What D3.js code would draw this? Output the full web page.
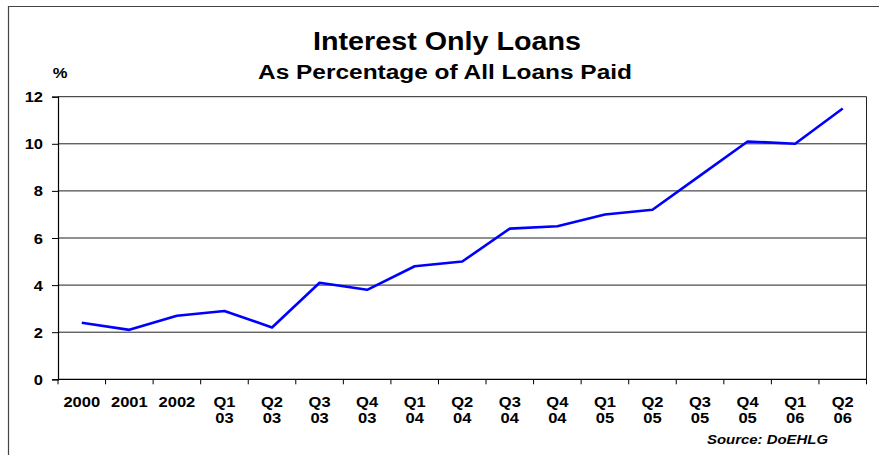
<!DOCTYPE html>
<html>
<head>
<meta charset="utf-8">
<script src="https://cdn.jsdelivr.net/npm/d3@7"></script>
<style>
  html, body { margin: 0; padding: 0; background: #fff; }
  svg { display: block; font-family: Arial, "Liberation Sans", sans-serif; }
</style>
</head>
<body>
<svg id="chart" width="879" height="455"></svg>
<script>
// Periods shown along the x axis (two-line labels split on "\n")
const categories = [
  "2000", "2001", "2002",
  "Q1\n03", "Q2\n03", "Q3\n03", "Q4\n03",
  "Q1\n04", "Q2\n04", "Q3\n04", "Q4\n04",
  "Q1\n05", "Q2\n05", "Q3\n05", "Q4\n05",
  "Q1\n06", "Q2\n06"
];
// Interest-only loans as % of all loans paid
const values = [2.4, 2.1, 2.7, 2.9, 2.2, 4.1, 3.8, 4.8, 5.0, 6.4, 6.5, 7.0, 7.2, 8.65, 10.1, 10.0, 11.5];
const yTicks = [0, 2, 4, 6, 8, 10, 12];

const titleText = "Interest Only Loans";
const subtitleText = "As Percentage of All Loans Paid";
const unitText = "%";
const sourceText = "Source: DoEHLG";

const svg = d3.select("#chart");
const W = 879, H = 455;
const plot = { left: 58, right: 866.5, top: 96.7, bottom: 379.3 };
const STRETCH = 1.14; // labels are set slightly wide

// place a text element at (px, py) with a horizontal stretch
function placeWide(sel, px, py, sx) {
  sel.attr("x", 0).attr("y", 0)
     .attr("transform", `translate(${px},${py}) scale(${sx},1)`);
}

// outer frame (runs off the right and bottom edges)
svg.append("path")
  .attr("d", `M8.5,${H + 2} V6.5 H${W + 2}`)
  .attr("fill", "none").attr("stroke", "#444").attr("stroke-width", 1.2);

const x = d3.scaleBand().domain(categories).range([plot.left, plot.right]).padding(0);
const y = d3.scaleLinear().domain([0, 12]).range([plot.bottom, plot.top]);

// horizontal gridlines
svg.append("g").selectAll("line").data(yTicks.slice(1)).join("line")
  .attr("x1", plot.left).attr("x2", plot.right)
  .attr("y1", d => y(d)).attr("y2", d => y(d))
  .attr("stroke", "#222").attr("stroke-width", 1);

// right edge of the plot area
svg.append("line")
  .attr("x1", plot.right).attr("x2", plot.right)
  .attr("y1", plot.top).attr("y2", plot.bottom)
  .attr("stroke", "#222").attr("stroke-width", 1);

// y axis
const yAxis = svg.append("g")
  .attr("transform", `translate(${plot.left},0)`)
  .call(d3.axisLeft(y).tickValues(yTicks).tickSize(6).tickFormat(d3.format("d")));
yAxis.select(".domain").attr("stroke", "#000").attr("stroke-width", 1.2);
yAxis.selectAll(".tick line").attr("stroke", "#000");
yAxis.selectAll(".tick text")
  .attr("font-size", 14.5).attr("font-weight", "bold").attr("fill", "#000")
  .attr("font-family", "Arial, 'Liberation Sans', sans-serif")
  .attr("text-anchor", "end").attr("dy", "0.35em")
  .attr("x", 0)
  .attr("transform", `translate(-15,0) scale(${STRETCH},1)`);

// x axis: ticks at category boundaries, labels centred in each band
const boundaries = categories.map(c => x(c)).concat([plot.right]);
const xg = svg.append("g");
xg.append("line")
  .attr("x1", plot.left).attr("x2", plot.right)
  .attr("y1", plot.bottom).attr("y2", plot.bottom)
  .attr("stroke", "#000").attr("stroke-width", 1.2);
xg.selectAll("line.tick").data(boundaries).join("line")
  .attr("class", "tick")
  .attr("x1", d => d).attr("x2", d => d)
  .attr("y1", plot.bottom).attr("y2", plot.bottom + 5)
  .attr("stroke", "#000").attr("stroke-width", 1);

xg.selectAll("text.cat").data(categories).join("text")
  .attr("class", "cat")
  .attr("text-anchor", "middle")
  .attr("font-size", 14.5).attr("font-weight", "bold").attr("fill", "#000")
  .each(function(d) {
    const t = d3.select(this);
    placeWide(t, x(d) + x.bandwidth() / 2, 406.7, STRETCH);
    d.split("\n").forEach((p, i) => {
      t.append("tspan").attr("x", 0).attr("dy", i === 0 ? 0 : 16.6).text(p);
    });
  });

// data line
const line = d3.line()
  .x((d, i) => x(categories[i]) + x.bandwidth() / 2)
  .y(d => y(d));
svg.append("path")
  .datum(values)
  .attr("d", line)
  .attr("fill", "none")
  .attr("stroke", "#0000ff")
  .attr("stroke-width", 2.6)
  .attr("stroke-linejoin", "round");

// titles
svg.append("text")
  .attr("x", 313).attr("y", 50)
  .attr("font-size", 25).attr("font-weight", "bold").attr("fill", "#000")
  .attr("textLength", 268).attr("lengthAdjust", "spacingAndGlyphs")
  .text(titleText);
svg.append("text")
  .attr("x", 258).attr("y", 78.5)
  .attr("font-size", 20).attr("font-weight", "bold").attr("fill", "#000")
  .attr("textLength", 374).attr("lengthAdjust", "spacingAndGlyphs")
  .text(subtitleText);
svg.append("text")
  .attr("font-size", 14.5).attr("font-weight", "bold").attr("fill", "#000")
  .attr("text-anchor", "middle")
  .call(placeWide, 60, 77.7, STRETCH)
  .text(unitText);

// source note
svg.append("text")
  .attr("x", 707).attr("y", 444)
  .attr("font-size", 12.5).attr("font-weight", "bold").attr("font-style", "italic").attr("fill", "#000")
  .attr("textLength", 121).attr("lengthAdjust", "spacingAndGlyphs")
  .text(sourceText);
</script>
</body>
</html>
